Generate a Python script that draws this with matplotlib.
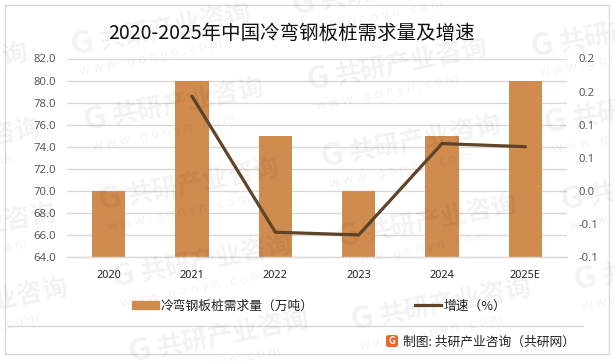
import matplotlib
matplotlib.use("Agg")
import matplotlib.pyplot as plt
from matplotlib.patches import Rectangle, FancyBboxPatch
from matplotlib.lines import Line2D

plt.rcParams['font.family'] = ['Noto Sans CJK SC', 'DejaVu Sans']

W, H = 615, 361
title = "2020-2025年中国冷弯钢板桩需求量及增速"
categories = ["2020", "2021", "2022", "2023", "2024", "2025E"]
demand = [70.0, 80.0, 75.0, 70.0, 75.0, 80.0]
growth = [None, 0.143, -0.0625, -0.0667, 0.0714, 0.0667]
left_ticks = [64, 66, 68, 70, 72, 74, 76, 78, 80, 82]
left_labels = ["64.0", "66.0", "68.0", "70.0", "72.0", "74.0", "76.0", "78.0", "80.0", "82.0"]
right_ticks = [-0.1, -0.05, 0, 0.05, 0.1, 0.15, 0.2]
right_labels = ["-0.1", "-0.1", "0.0", "0.1", "0.1", "0.2", "0.2"]
bar_name = "冷弯钢板桩需求量（万吨）"
line_name = "增速（%）"
source = "制图: 共研产业咨询（共研网）"
wm_main = "共研产业咨询"
wm_sub = "w w w . g o n y n . c o m"
wm_anchors = [(-151, 95), (-138, 170), (-123, 255), (-111, 330), (72, 55), (85, 130),
              (100, 210), (113, 287), (130, 362), (293, 15), (308, 90), (322, 167),
              (338, 247), (352, 330), (532, 57), (545, 133), (562, 210), (575, 290)]

BAR = "#D08B4E"
LINE = "#5F4429"
GRID = "#D9D9D9"
TICK = "#595959"


def fx(x):
    return x / W


def fy(y):
    return 1 - y / H


fig = plt.figure(figsize=(W / 100, H / 100), dpi=100, facecolor="white")
ax = fig.add_axes([fx(67), fy(257), (567 - 67) / W, (257 - 58.5) / H])
x = list(range(len(categories)))
ax.bar(x, demand, width=0.4, color=BAR, zorder=2)
ax.set_xlim(-0.5, 5.5)
ax.set_ylim(64, 82)
ax.set_yticks(left_ticks, left_labels)
ax.set_xticks(x, categories)
ax.grid(axis="y", color=GRID, lw=1.0, zorder=0)
ax.set_axisbelow(True)
for s in ["top", "left", "right"]:
    ax.spines[s].set_visible(False)
ax.spines["bottom"].set_color(GRID)
ax.spines["bottom"].set_linewidth(1.0)
ax.tick_params(axis="y", length=0, pad=8, labelsize=8.2, labelcolor=TICK)
ax.tick_params(axis="x", length=0, pad=9, labelsize=7.8, labelcolor="#222222")
for lab in ax.get_xticklabels() + ax.get_yticklabels():
    lab.set_family(['Noto Sans', 'DejaVu Sans'])

ax2 = ax.twinx()
gx = [i for i, g in zip(x, growth) if g is not None]
gy = [g for g in growth if g is not None]
ax2.plot(gx, gy, color=LINE, lw=2.3, solid_capstyle="round", solid_joinstyle="round", zorder=3)
ax2.set_ylim(-0.1, 0.2)
ax2.set_yticks(right_ticks, right_labels)
ax2.tick_params(axis="y", length=0, pad=8, labelsize=8.2, labelcolor=TICK)
for lab in ax2.get_yticklabels():
    lab.set_family(['Noto Sans', 'DejaVu Sans'])
for s in ax2.spines.values():
    s.set_visible(False)

fig.text(fx(292), fy(33), title, fontsize=14, ha="center", va="center", color="#111111")

handles = [Rectangle((0, 0), 1, 1, color=BAR), Line2D([0], [0], color=LINE, lw=2.3)]
fig.legend(handles, [bar_name, line_name], ncol=2, frameon=False, fontsize=9.2,
           loc="center", bbox_to_anchor=(fx(319), fy(306)), handlelength=2.1,
           handleheight=0.6, handletextpad=0.15, columnspacing=7.9, labelcolor="#222222")

fig.add_artist(Rectangle((fx(4.5), fy(354)), (609 - 4.5) / W, (354 - 5) / H, transform=fig.transFigure,
                         fill=False, ec="#D9D9D9", lw=1.0))
fig.add_artist(Line2D([fx(8), fx(583)], [fy(325.5), fy(325.5)], color="#D9D9D9", lw=1.0))

fig.add_artist(FancyBboxPatch((fx(386), fy(347)), 12 / W, 12 / H, transform=fig.transFigure,
                              boxstyle="round,pad=0,rounding_size=0.005", fc="#F0662A", ec="none"))
fig.text(fx(392), fy(341), "G", color="white", fontsize=7, fontweight="bold", ha="center", va="center")
fig.text(fx(403), fy(342), source, fontsize=9.2, ha="left", va="center", color="#222222")

wm_color = (0, 0, 0, 0.05)
for ox, oy in wm_anchors:
    fig.text(fx(ox), fy(oy), "G", color=wm_color, fontsize=23, fontweight="bold", rotation=11,
             rotation_mode="anchor", ha="left", va="baseline")
    fig.text(fx(ox + 29), fy(oy - 6), wm_main, color=wm_color, fontsize=18.5, fontweight="bold",
             rotation=11, rotation_mode="anchor", ha="left", va="baseline")
    fig.text(fx(ox + 8), fy(oy + 20), wm_sub, color=wm_color, fontsize=9.5, rotation=11,
             rotation_mode="anchor", ha="left", va="baseline", family=['Noto Sans', 'DejaVu Sans'])

fig.savefig("out.png", dpi=100, facecolor="white")
